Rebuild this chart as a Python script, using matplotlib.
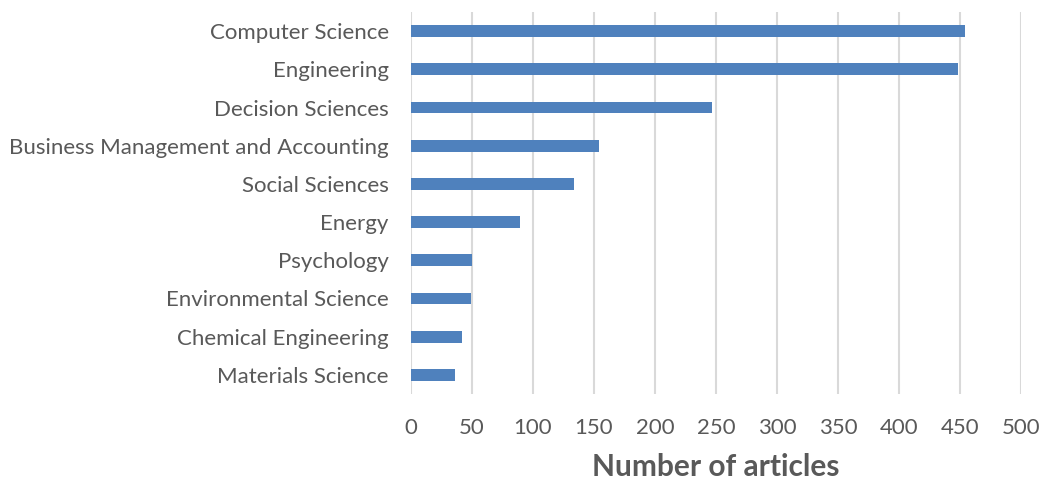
import matplotlib.pyplot as plt

# data (top to bottom as shown)
subjects = ['Computer Science', 'Engineering', 'Decision Sciences',
            'Business Management and Accounting', 'Social Sciences', 'Energy',
            'Psychology', 'Environmental Science', 'Chemical Engineering',
            'Materials Science']
articles = [454, 448, 247, 154, 134, 89, 50, 49, 42, 36]
xticks = list(range(0, 501, 50))

plt.rcParams['font.family'] = ['Lato', 'DejaVu Sans']
grey = '#595959'

fig = plt.figure(figsize=(10.42, 4.79), dpi=100)
ax = fig.add_axes([411 / 1042, 1 - 394 / 479, 610 / 1042, 382 / 479])

pos = list(range(len(subjects)))
ax.barh(pos, articles, height=0.31, color='#4F81BD', zorder=3)
ax.set_ylim(len(subjects) - 0.5, -0.5)
ax.set_yticks(pos)
ax.set_yticklabels(subjects, fontsize=16, color=grey)
ax.set_xlim(0, 500)
ax.set_xticks(xticks)
ax.set_xticklabels([str(t) for t in xticks], fontsize=16, color=grey)
ax.tick_params(axis='both', length=0)
ax.tick_params(axis='x', pad=17)
ax.tick_params(axis='y', pad=16)
ax.grid(axis='x', color='#D9D9D9', linewidth=1.5, zorder=0)
for s in ax.spines.values():
    s.set_visible(False)
ax.set_xlabel('Number of articles', fontsize=21.5, fontweight='bold', color=grey, labelpad=11)

fig.savefig('out.png', dpi=100)
